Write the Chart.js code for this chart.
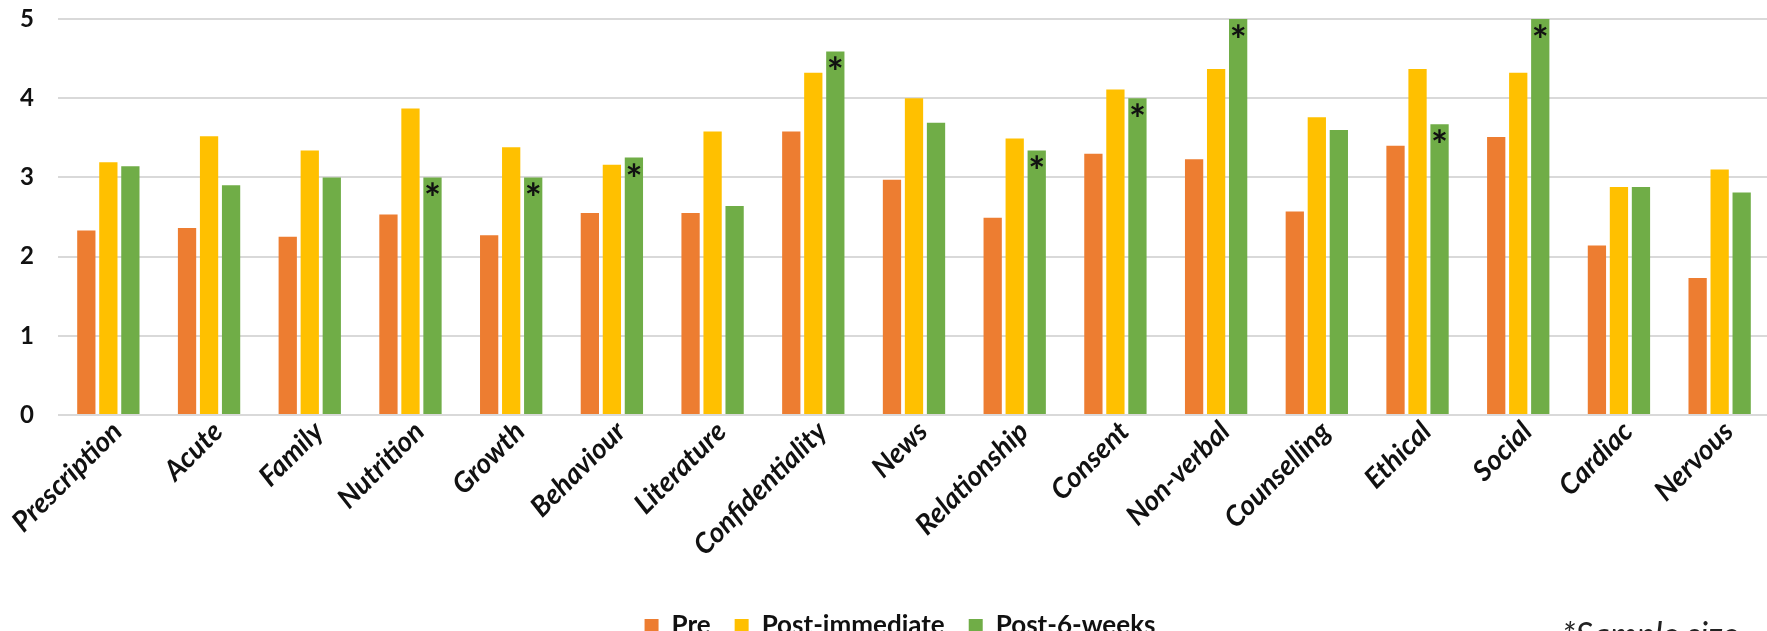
<!DOCTYPE html>
<html>
<head>
    <script src="https://cdn.jsdelivr.net/npm/chart.js@4.4.1/dist/chart.umd.min.js"></script>
    <style>
    body {
        margin: 0;
        background-color: #ffffff;
        overflow: hidden;
    }
    </style>
    <title>Scores</title>
</head>
<body>

<canvas id="myChart" width="1770" height="649"></canvas>

<script>
    var categories = ['Prescription', 'Acute', 'Family', 'Nutrition', 'Growth', 'Behaviour', 'Literature',
        'Confidentiality', 'News', 'Relationship', 'Consent', 'Non-verbal', 'Counselling', 'Ethical',
        'Social', 'Cardiac', 'Nervous'];
    var preScores = [2.33, 2.36, 2.25, 2.53, 2.27, 2.55, 2.55, 3.58, 2.97, 2.49, 3.30, 3.23, 2.57, 3.40, 3.51, 2.14, 1.73];
    var postImmediate = [3.19, 3.52, 3.34, 3.87, 3.38, 3.16, 3.58, 4.32, 4.00, 3.49, 4.11, 4.37, 3.76, 4.37, 4.32, 2.88, 3.10];
    var postSixWeeks = [3.14, 2.90, 3.00, 3.00, 3.00, 3.25, 2.64, 4.59, 3.69, 3.34, 4.00, 5.00, 3.60, 3.67, 5.00, 2.88, 2.81];
    // categories marked with * on the Post-6-weeks bar
    var starred = ['Nutrition', 'Growth', 'Behaviour', 'Confidentiality', 'Relationship', 'Consent', 'Non-verbal', 'Ethical', 'Social'];
    var yTicks = [0, 1, 2, 3, 4, 5];
    var footNote = '*Sample size';

    var textColor = '#111111';

    // draws the asterisks on the green bars + the cut off note in the corner
    var starPlugin = {
        id: 'stars',
        afterLayout: function(chart) {
            // legend sits a bit right of the canvas centre in the original
            chart.legend.left += 5;
            chart.legend.right += 5;
        },
        afterDatasetsDraw: function(chart) {
            var ctx = chart.ctx;
            var meta = chart.getDatasetMeta(2);
            ctx.save();
            ctx.font = 'bold 40px Lato';
            ctx.fillStyle = textColor;
            ctx.textAlign = 'center';
            var m = ctx.measureText('*');
            var shift = (m.actualBoundingBoxAscent - m.actualBoundingBoxDescent) / 2;
            meta.data.forEach(function(bar, i) {
                if (starred.indexOf(categories[i]) < 0) return;
                ctx.fillText('*', bar.x, bar.y + 12 + shift);
            });
            ctx.font = 'italic 34px Lato';
            ctx.textAlign = 'left';
            ctx.textBaseline = 'alphabetic';
            ctx.fillStyle = '#222222';
            ctx.fillText(footNote, 1562, 647);
            ctx.restore();
        }
    };

    var ctx = document.getElementById('myChart').getContext('2d');
    var myChart = new Chart(ctx, {
        type: 'bar',
        data: {
            labels: categories,
            datasets: [
                {
                    label: 'Pre',
                    data: preScores,
                    backgroundColor: '#ED7D31'
                },
                {
                    label: 'Post-immediate',
                    data: postImmediate,
                    backgroundColor: '#FFC000'
                },
                {
                    label: 'Post-6-weeks',
                    data: postSixWeeks,
                    backgroundColor: '#70AD47'
                }
            ]
        },
        options: {
            responsive: false,
            animation: false,
            categoryPercentage: 0.656,
            barPercentage: 0.83,
            layout: {
                padding: { left: 20, top: 19, right: 0, bottom: 0 }
            },
            scales: {
                x: {
                    grid: { display: false, drawTicks: false },
                    border: { display: false },
                    ticks: {
                        color: textColor,
                        autoSkip: false,
                        maxRotation: 45,
                        minRotation: 45,
                        padding: 0,
                        labelOffset: 9,
                        font: { family: 'Lato', size: 28, weight: 'bold', style: 'italic' }
                    },
                    afterFit: function(scale) { scale.height = 174; }
                },
                y: {
                    min: 0,
                    max: 5,
                    afterBuildTicks: function(scale) {
                        scale.ticks = yTicks.map(function(v) { return { value: v }; });
                    },
                    ticks: {
                        color: textColor,
                        padding: 24,
                        font: { family: 'Lato', size: 24, weight: 'bold' }
                    },
                    grid: { color: '#d9d9d9', lineWidth: 2, drawTicks: false, tickLength: 0 },
                    border: { display: false },
                    afterFit: function(scale) {
                        scale.width = 38;
                        // tick padding is only meant as a horizontal gap here
                        scale.paddingTop = 0;
                        scale.paddingBottom = 0;
                    }
                }
            },
            plugins: {
                legend: {
                    position: 'bottom',
                    labels: {
                        color: textColor,
                        boxWidth: 14,
                        boxHeight: 14,
                        padding: 24,
                        font: { family: 'Lato', size: 26, weight: 'bold' }
                    }
                },
                tooltip: { enabled: false }
            }
        },
        plugins: [starPlugin]
    });
</script>

</body>
</html>
